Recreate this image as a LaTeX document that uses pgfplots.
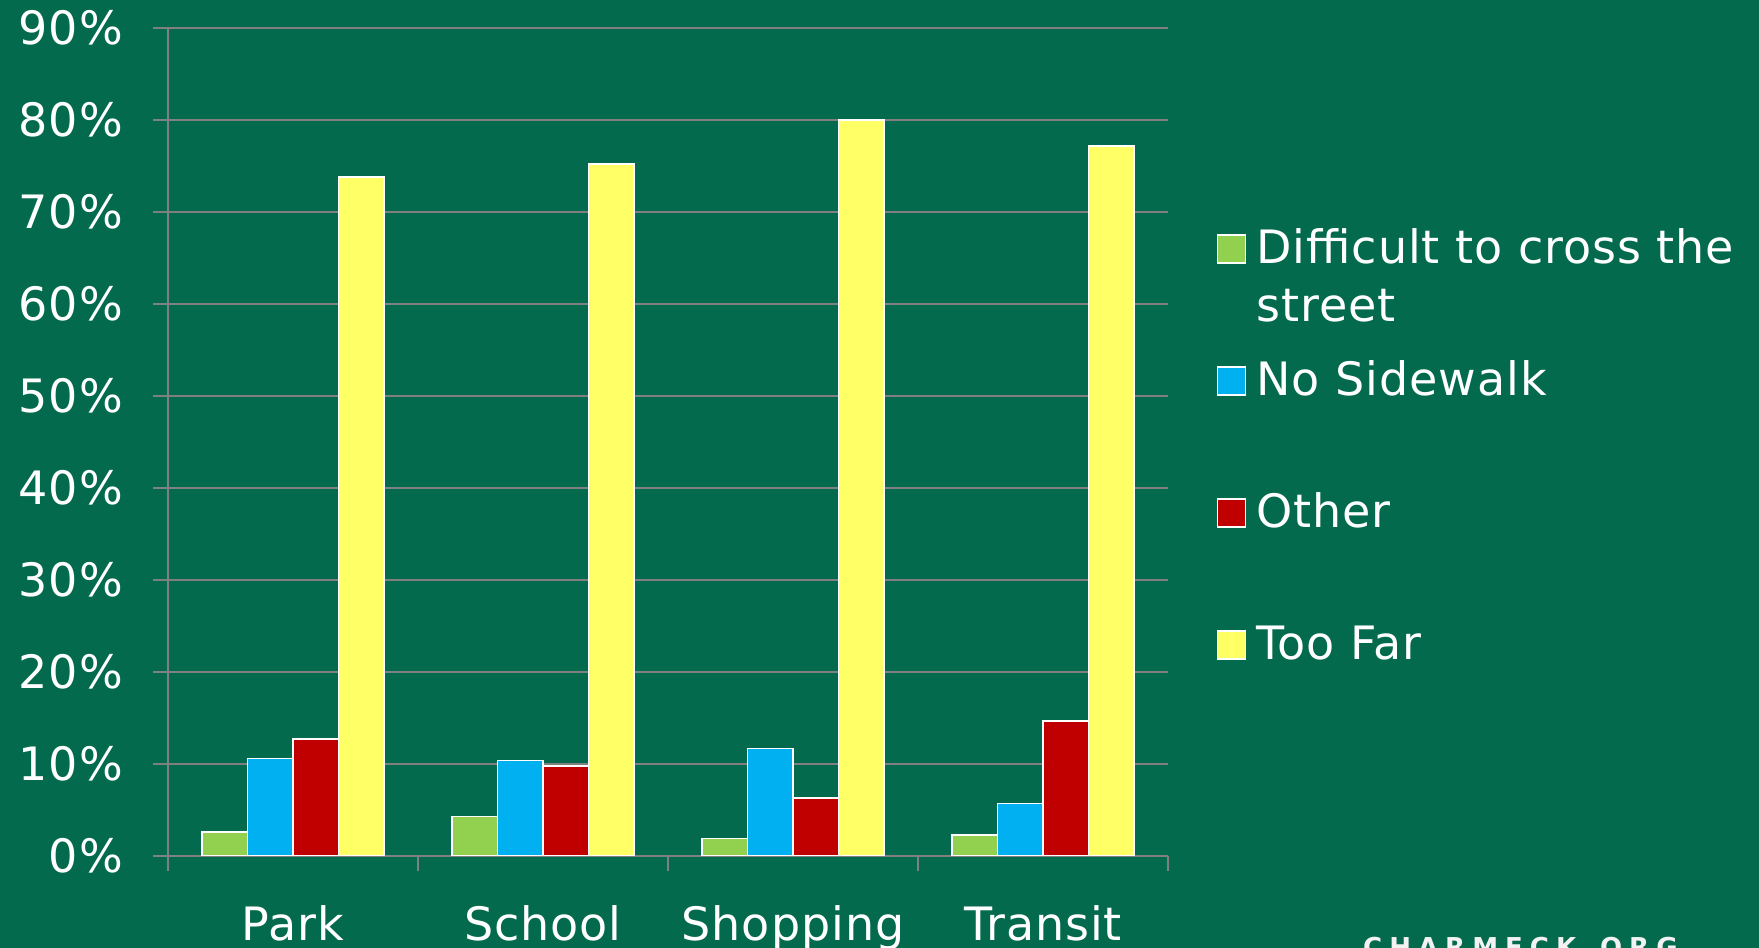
\documentclass[border=0pt]{standalone}
\usepackage{pgfplots}
\pgfplotsset{compat=1.18}
\usepackage{fontspec}
\setmainfont[LetterSpace=2]{DejaVu Sans}
\newfontfamily\wmfont[LetterSpace=27]{DejaVu Sans}
\definecolor{bg}{RGB}{3,106,78}
\definecolor{gridgray}{RGB}{128,128,128}
\definecolor{cgreen}{RGB}{146,208,80}
\definecolor{cblue}{RGB}{0,176,240}
\definecolor{cred}{RGB}{192,0,0}
\definecolor{cyellow}{RGB}{255,255,102}
\newcommand\bigfont{\fontsize{46bp}{58bp}\selectfont}
\pgfplotsset{sqlegend/.style={legend image code/.code={\draw[##1,line width=1.5bp] (0bp,27bp) rectangle (28bp,55bp); \path (38bp,0bp);}}}
\begin{document}
\begin{tikzpicture}
\useasboundingbox (0,0) rectangle (1759bp,948bp);
\clip (0,0) rectangle (1759bp,948bp);
\fill[bg] (0,0) rectangle (1759bp,948bp);
\begin{axis}[
  at={(168bp,92bp)}, anchor=south west,
  scale only axis, width=1000bp, height=828bp,
  xmin=-0.5, xmax=3.5, ymin=0, ymax=90,
  axis x line*=bottom, axis y line*=left,
  axis line style={gridgray, line width=2bp},
  ybar=0pt, bar width=45.4bp,
  xtick={-0.5,0.5,1.5,2.5,3.5}, xticklabels={},
  extra x ticks={0,1,2,3},
  extra x tick labels={Park,School,Shopping,Transit},
  extra x tick style={major tick length=0pt, xticklabel style={anchor=base, yshift=-84bp}},
  ytick={0,10,20,30,40,50,60,70,80,90},
  yticklabels={0\%,10\%,20\%,30\%,40\%,50\%,60\%,70\%,80\%,90\%},
  yticklabel style={anchor=east, xshift=-30bp},
  tick align=outside, major tick length=15bp,
  tick style={gridgray, line width=2bp},
  tick label style={white, font=\bigfont, inner sep=0pt},
  ymajorgrids, major grid style={gridgray, line width=2bp},
  legend cell align=left,
  legend style={draw=none, fill=none, at={(1.049,0.7633)}, anchor=north west,
    inner sep=0pt, outer sep=0pt, row sep=0pt, font=\bigfont,
    nodes={text height=40bp, text depth=92bp, inner sep=0pt, text=white}},
]
\addplot[fill=cgreen, draw=white, line width=1.5bp, sqlegend] coordinates {(0,2.6) (1,4.3) (2,1.9) (3,2.3)};
\addplot[fill=cblue, draw=white, line width=1.5bp, sqlegend] coordinates {(0,10.6) (1,10.4) (2,11.7) (3,5.7)};
\addplot[fill=cred, draw=white, line width=1.5bp, sqlegend] coordinates {(0,12.7) (1,9.8) (2,6.3) (3,14.7)};
\addplot[fill=cyellow, draw=white, line width=1.5bp, sqlegend] coordinates {(0,73.8) (1,75.2) (2,80.0) (3,77.2)};
\addlegendentry{\begin{tabular}[t]{@{}l@{}}Difficult to cross the\\street\end{tabular}}
\addlegendentry{No Sidewalk}
\addlegendentry{Other}
\addlegendentry{Too Far}
\end{axis}
\node[anchor=north west, inner sep=0pt, text=white!90!gray, font=\wmfont\bfseries\fontsize{26bp}{30bp}\selectfont] at (1363bp,11bp) {CHARMECK.ORG};
\end{tikzpicture}
\end{document}
